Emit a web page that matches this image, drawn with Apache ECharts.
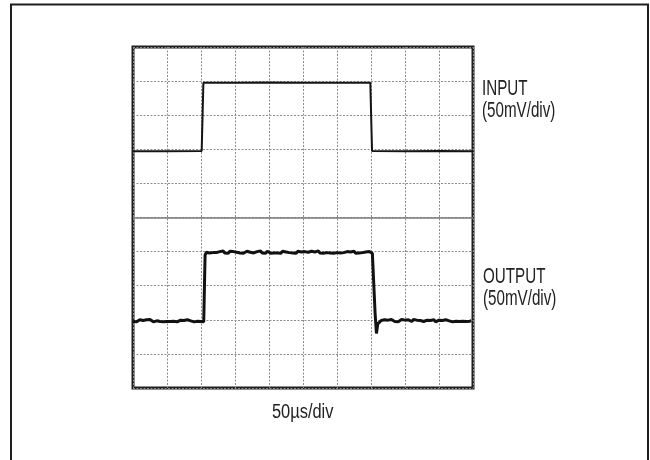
<!DOCTYPE html>
<html>
<head>
<meta charset="utf-8">
<script src="https://cdn.jsdelivr.net/npm/echarts@6/dist/echarts.min.js"></script>
<style>
html,body{margin:0;padding:0;background:#fff;}
#c{width:650px;height:460px;}
</style>
</head>
<body>
<div id="c"></div>
<script>
// Time axis in divisions (50 µs/div), voltage in divisions (50 mV/div)
var xTicks = [0,1,2,3,4,5,6,7,8,9,10];
var yTicks = [0,1,2,3,4,5,6,7,8,9,10];
var centerLine = 5;

var inputX = [0, 1.0, 2.02, 2.07, 3.0, 4.0, 5.0, 6.0, 6.98, 7.03, 8.0, 9.0, 10];
var inputY = [6.94, 6.94, 6.95, 8.95, 8.95, 8.96, 8.95, 8.95, 8.95, 6.95, 6.94, 6.95, 6.94];

var outLow1 = [1.96,1.99,1.94,1.98,2.0,1.95,1.98,1.95,2.0,1.97,2.01,1.96,1.94,1.99,1.97,2.01,1.95,1.98,1.94,1.97,1.95,
               1.98,1.95,1.99,1.96,2.0,1.94,1.97,1.99,1.95,1.98,1.96,2.0,1.95,1.97,1.99,1.94,1.98,1.96,1.97,1.95];
var outHigh = [3.99,3.96,4.0,3.97,4.02,3.97,3.95,4.0,3.98,4.02,3.96,3.99,3.95,4.01,3.97,4.0,3.95,3.98,4.02,3.96,
               4.0,3.95,3.99,4.01,3.96,3.98,4.02,3.96,3.94,4.0,3.97,4.02,3.96,3.99,3.95,4.01,3.97,3.95,4.0,3.96,
               4.01,3.96,3.98,3.95,4.01,3.96,3.99,3.95,3.97,4.0,3.96,3.99,3.95,4.01,3.97,3.99,3.95,4.0,3.97,3.98,
               3.95,4.01,3.97,3.99,3.96,4.02,3.96,3.98,3.95,4.0,3.97,4.01,3.96,3.99,3.95,4.0,3.97,3.98,3.96,4.01,
               3.97,3.95,4.0,3.96,3.99,3.97,4.01,3.95,3.98,3.96,4.0,3.97,3.95,3.99,3.96,4.0,3.97];
var outLow2 = [1.93,1.98,1.95,2.0,1.96,1.99,1.94,2.01,1.97,1.95,2.0,1.94,1.98,2.01,1.96,1.99,1.94,2.0,1.97,1.95,2.01,1.96,1.99,1.94,1.98,2.0,1.95,1.97,
               1.99,1.95,1.98,1.96,2.0,1.94,1.97,1.99,1.95,1.98,1.96,2.0,1.95,1.97,1.99,1.94,1.98,1.96,2.0,1.95,1.97,1.96,1.99,1.95,1.98,1.96,1.97];

function buildOutput(){
  var d = [];
  for (var i = 0; i < outLow1.length; i++) d.push([i*0.05, outLow1[i]]);
  d.push([2.08, 1.94]);
  d.push([2.12, 3.9]);
  d.push([2.16, 3.98]);
  for (var j = 0; j < outHigh.length; j++) d.push([2.2 + j*0.05, outHigh[j]]);
  d.push([7.04, 3.95]);
  d.push([7.12, 2.2]);
  d.push([7.16, 1.6]);
  d.push([7.2, 1.88]);
  for (var k = 0; k < outLow2.length; k++) d.push([7.25 + k*0.05, outLow2[k]]);
  return d;
}
function pairs(xs, ys){ return xs.map(function(x,i){return [x, ys[i]];}); }

var chart = echarts.init(document.getElementById('c'), null, {renderer:'canvas'});
var gridStyle = {color:'#8c8c8c', width:1, type:[2,1.5]};
var labelFont = "'Liberation Sans',Arial,sans-serif";

chart.setOption({
  animation:false,
  backgroundColor:'#fff',
  grid:{left:133, top:47, width:340, height:341, show:true, borderColor:'#1e1e1e', borderWidth:3, backgroundColor:'#fff', z:0},
  xAxis:{type:'value', min:xTicks[0], max:xTicks[xTicks.length-1], interval:1,
    axisLine:{show:false}, axisTick:{show:false}, axisLabel:{show:false},
    splitLine:{show:true, lineStyle:gridStyle}},
  yAxis:{type:'value', min:yTicks[0], max:yTicks[yTicks.length-1], interval:1,
    axisLine:{show:false}, axisTick:{show:false}, axisLabel:{show:false},
    splitLine:{show:true, lineStyle:gridStyle}},
  series:[
    {name:'INPUT', type:'line', data:pairs(inputX, inputY), showSymbol:false, symbol:'none',
      lineStyle:{color:'#141414', width:2}, z:3,
      markLine:{silent:true, symbol:'none', label:{show:false},
        lineStyle:{color:'#7a7a7a', width:1.6, type:'solid'},
        data:[{yAxis:centerLine}]}},
    {name:'OUTPUT', type:'line', data:buildOutput(), showSymbol:false, symbol:'none',
      lineStyle:{color:'#111', width:3}, z:3}
  ],
  graphic:[
    {type:'rect', shape:{x:11, y:4.5, width:637, height:500}, style:{fill:'none', stroke:'#1e1e1e', lineWidth:2}, z:10},
    {type:'text', x:482, y:89, scaleX:0.69, style:{text:'INPUT', font:"22px "+labelFont, fill:'#222', verticalAlign:'middle', align:'left'}},
    {type:'text', x:482, y:111, scaleX:0.69, style:{text:'(50mV/div)', font:"22px "+labelFont, fill:'#222', verticalAlign:'middle', align:'left'}},
    {type:'text', x:483, y:277, scaleX:0.69, style:{text:'OUTPUT', font:"22px "+labelFont, fill:'#222', verticalAlign:'middle', align:'left'}},
    {type:'text', x:483, y:299, scaleX:0.69, style:{text:'(50mV/div)', font:"22px "+labelFont, fill:'#222', verticalAlign:'middle', align:'left'}},
    {type:'text', x:272, y:412, scaleX:0.82, style:{text:'50\u00B5s/div', font:"20px "+labelFont, fill:'#222', verticalAlign:'middle', align:'left'}}
  ]
});
</script>
</body>
</html>
